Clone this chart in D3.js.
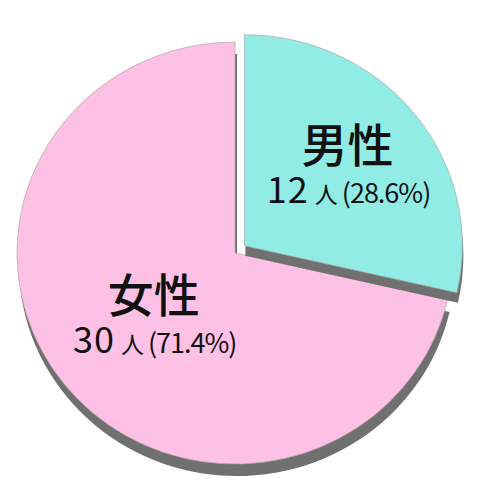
<!DOCTYPE html>
<html>
<head>
<meta charset="utf-8">
<script src="https://cdn.jsdelivr.net/npm/d3@7"></script>
<style>
  html, body { margin: 0; padding: 0; background: #fff; }
  svg { display: block; }
</style>
</head>
<body>
<svg id="chart" width="480" height="480"></svg>
<script>
// Data.
var categories = ['男性', '女性'];
var counts = [12, 30];
var percents = ['28.6%', '71.4%'];
var colors = ['#92ece6', '#fec1e5'];

// Layout.
var WIDTH = 480;
var HEIGHT = 480;
var CX = 235;
var CY = 253;
var RADIUS = 218;
var Y_SQUASH = 0.968;     // the pie is a touch flatter than round
var EXPLODE = [12, 0];    // pull-out of each slice along its mid angle
var SHADOW = [[1, 10], [2, 12]]; // depth of the grey edge under each slice
var LABEL_RADIUS = [132, 104];
var SHADOW_COLOR = '#707070';

var svg = d3.select('#chart');

var pie = d3.pie().sort(null).value(function(d) { return d; });
var arcs = pie(counts);

var arc = d3.arc().innerRadius(0).outerRadius(RADIUS);

var offset = function(d, i) {
  var mid = (d.startAngle + d.endAngle) / 2;
  return [EXPLODE[i] * Math.sin(mid), -EXPLODE[i] * Math.cos(mid)];
};

var pieGroup = svg.append('g')
  .attr('transform', 'translate(' + CX + ',' + CY + ') scale(1,' + Y_SQUASH + ')');

// Draw the female slice first, then the pulled-out male slice over it,
// each with its grey edge underneath.
var order = [1, 0];
order.forEach(function(i) {
  var d = arcs[i];
  var o = offset(d, i);
  pieGroup.append('path')
    .attr('d', arc(d))
    .attr('transform', 'translate(' + (o[0] + SHADOW[i][0]) + ',' + (o[1] + SHADOW[i][1] / Y_SQUASH) + ')')
    .attr('fill', SHADOW_COLOR);
  pieGroup.append('path')
    .attr('d', arc(d))
    .attr('transform', 'translate(' + o[0] + ',' + o[1] + ')')
    .attr('fill', colors[i])
    .attr('stroke', '#a8a8a8')
    .attr('stroke-width', 0.7)
    .attr('stroke-linejoin', 'round');
});

// Labels.
var labels = svg.append('g')
  .attr('font-family', '"Noto Sans CJK JP", "Noto Sans", sans-serif')
  .attr('fill', '#111')
  .attr('text-anchor', 'middle');

arcs.forEach(function(d, i) {
  var o = offset(d, i);
  var mid = (d.startAngle + d.endAngle) / 2;
  var x = CX + o[0] + LABEL_RADIUS[i] * Math.sin(mid);
  var y = CY + (o[1] - LABEL_RADIUS[i] * Math.cos(mid)) * Y_SQUASH;

  labels.append('text')
    .attr('x', x)
    .attr('y', y - 4)
    .attr('font-size', 46)
    .attr('font-weight', 500)
    .text(categories[i]);

  var line = labels.append('text')
    .attr('x', x + 1)
    .attr('y', y + 37);
  line.append('tspan')
    .attr('font-size', 36)
    .attr('letter-spacing', 1)
    .text(counts[i]);
  line.append('tspan')
    .attr('font-size', 23)
    .attr('dx', 6)
    .text('人');
  line.append('tspan')
    .attr('font-size', 27)
    .attr('dx', 4)
    .attr('letter-spacing', -1)
    .text('(' + percents[i] + ')');
});
</script>
</body>
</html>
